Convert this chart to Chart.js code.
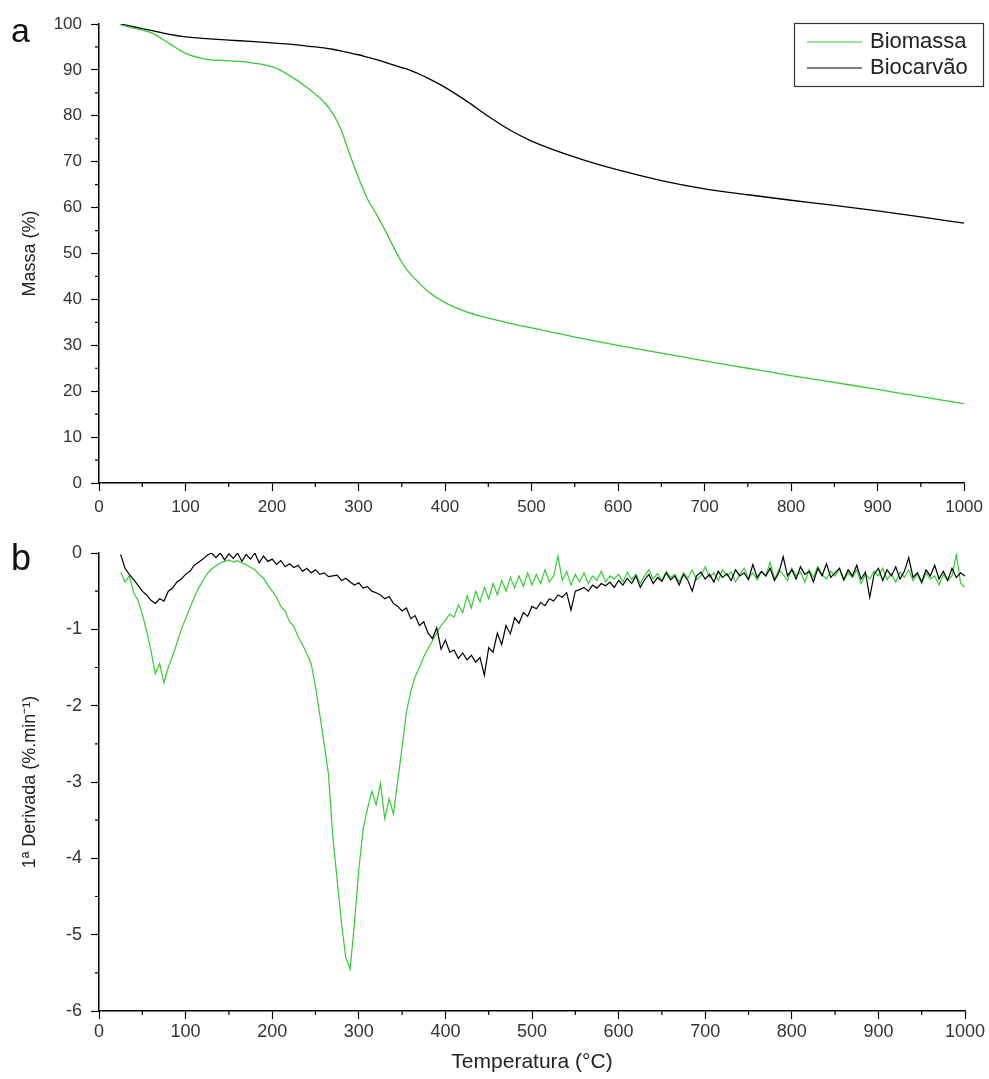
<!DOCTYPE html>
<html lang="pt">
<head>
<meta charset="utf-8">
<title>TGA / DTG - Biomassa e Biocarvão</title>
<script src="https://cdn.jsdelivr.net/npm/chart.js@4.4.1/dist/chart.umd.min.js"></script>
<style>
  html, body { margin: 0; padding: 0; background: #fff; }
  #wrap { position: relative; width: 989px; height: 1079px; }
  .panel { position: absolute; left: 0; width: 989px; }
  #panelA { top: 0; height: 530px; }
  #panelB { top: 530px; height: 549px; }
</style>
</head>
<body>
<div id="wrap">
  <div class="panel" id="panelA"><canvas id="tgaChart"></canvas></div>
  <div class="panel" id="panelB"><canvas id="dtgChart"></canvas></div>
</div>
<script>
// TGA curves (massa residual, %)
const tgaTemp = [25, 40, 60, 80, 100, 125, 150, 175, 200, 220,
                 240, 260, 270, 280, 290, 300, 310, 320, 330, 340,
                 350, 360, 370, 380, 400, 425, 450, 475, 500, 550,
                 600, 650, 700, 750, 800, 850, 900, 950, 1000];
const massaBiomassa = [99.8, 99.1, 98.1, 95.9, 93.6, 92.3, 92.0, 91.6, 90.7, 88.8,
                       86.2, 83.0, 80.6, 76.9, 71.5, 66.5, 62.0, 58.8, 55.3, 51.6,
                       48.1, 45.5, 43.6, 41.8, 39.3, 37.3, 35.9, 34.8, 33.8, 31.8,
                       30.0, 28.3, 26.6, 25.0, 23.4, 21.9, 20.4, 18.8, 17.3];
const massaBiocarvao = [100.0, 99.4, 98.6, 97.8, 97.2, 96.8, 96.5, 96.2, 95.9, 95.6,
                        95.2, 94.8, 94.5, 94.1, 93.7, 93.3, 92.8, 92.3, 91.7, 91.1,
                        90.5, 89.9, 89.1, 88.2, 86.2, 83.2, 79.9, 76.9, 74.5, 71.0,
                        68.2, 65.9, 64.1, 62.8, 61.6, 60.5, 59.3, 58.0, 56.6];

// DTG curves (1ª derivada, %.min-1), every 5 °C
const dtgTemp = [
  25, 30, 35, 40, 45, 50, 55, 60, 65, 70,
  75, 80, 85, 90, 95, 100, 105, 110, 115, 120,
  125, 130, 135, 140, 145, 150, 155, 160, 165, 170,
  175, 180, 185, 190, 195, 200, 205, 210, 215, 220,
  225, 230, 235, 240, 245, 250, 255, 260, 265, 270,
  275, 280, 285, 290, 295, 300, 305, 310, 315, 320,
  325, 330, 335, 340, 345, 350, 355, 360, 365, 370,
  375, 380, 385, 390, 395, 400, 405, 410, 415, 420,
  425, 430, 435, 440, 445, 450, 455, 460, 465, 470,
  475, 480, 485, 490, 495, 500, 505, 510, 515, 520,
  525, 530, 535, 540, 545, 550, 555, 560, 565, 570,
  575, 580, 585, 590, 595, 600, 605, 610, 615, 620,
  625, 630, 635, 640, 645, 650, 655, 660, 665, 670,
  675, 680, 685, 690, 695, 700, 705, 710, 715, 720,
  725, 730, 735, 740, 745, 750, 755, 760, 765, 770,
  775, 780, 785, 790, 795, 800, 805, 810, 815, 820,
  825, 830, 835, 840, 845, 850, 855, 860, 865, 870,
  875, 880, 885, 890, 895, 900, 905, 910, 915, 920,
  925, 930, 935, 940, 945, 950, 955, 960, 965, 970,
  975, 980, 985, 990, 995, 1000
];
const dtgBiomassa = [
  -0.25, -0.38, -0.30, -0.52, -0.62, -0.80, -1.02, -1.28, -1.58, -1.45,
  -1.70, -1.50, -1.35, -1.18, -1.00, -0.86, -0.72, -0.58, -0.46, -0.36,
  -0.27, -0.21, -0.17, -0.13, -0.11, -0.09, -0.12, -0.10, -0.13, -0.15,
  -0.19, -0.22, -0.28, -0.33, -0.42, -0.50, -0.58, -0.70, -0.76, -0.90,
  -0.96, -1.10, -1.20, -1.32, -1.45, -1.75, -2.12, -2.50, -2.90, -3.72,
  -4.28, -4.85, -5.30, -5.45, -4.85, -4.15, -3.62, -3.35, -3.12, -3.30,
  -3.02, -3.48, -3.22, -3.42, -2.98, -2.55, -2.08, -1.82, -1.62, -1.50,
  -1.36, -1.25, -1.15, -1.05, -0.95, -0.88, -0.80, -0.84, -0.68, -0.78,
  -0.56, -0.72, -0.50, -0.64, -0.45, -0.60, -0.40, -0.55, -0.36, -0.50,
  -0.32, -0.46, -0.30, -0.44, -0.26, -0.42, -0.28, -0.40, -0.22, -0.38,
  -0.30, -0.04, -0.36, -0.24, -0.42, -0.28, -0.38, -0.26, -0.40, -0.30,
  -0.36, -0.24, -0.38, -0.30, -0.34, -0.28, -0.38, -0.25, -0.35, -0.28,
  -0.40, -0.30, -0.22, -0.34, -0.27, -0.36, -0.24, -0.32, -0.28, -0.38,
  -0.26, -0.33, -0.22, -0.35, -0.30, -0.18, -0.32, -0.26, -0.36, -0.22,
  -0.30, -0.25, -0.38, -0.28, -0.20, -0.33, -0.26, -0.35, -0.24, -0.30,
  -0.12, -0.34, -0.22, -0.28, -0.36, -0.20, -0.30, -0.25, -0.38, -0.22,
  -0.32, -0.18, -0.28, -0.34, -0.24, -0.30, -0.20, -0.36, -0.26, -0.32,
  -0.22, -0.40, -0.28, -0.34, -0.24, -0.30, -0.20, -0.35, -0.27, -0.38,
  -0.25, -0.32, -0.22, -0.36, -0.28, -0.40, -0.26, -0.34, -0.30, -0.42,
  -0.28, -0.36, -0.30, -0.02, -0.40, -0.45
];
const dtgBiocarvao = [
  -0.02, -0.20, -0.28, -0.35, -0.42, -0.50, -0.55, -0.62, -0.66, -0.60,
  -0.63, -0.50, -0.46, -0.38, -0.34, -0.28, -0.24, -0.16, -0.12, -0.08,
  -0.03, 0.00, -0.06, 0.00, -0.09, -0.01, -0.07, 0.00, -0.11, -0.02,
  -0.08, 0.00, -0.13, -0.04, -0.11, -0.08, -0.15, -0.10, -0.18, -0.14,
  -0.19, -0.16, -0.24, -0.20, -0.26, -0.22, -0.28, -0.26, -0.31, -0.30,
  -0.29, -0.36, -0.33, -0.38, -0.42, -0.39, -0.46, -0.44, -0.50, -0.52,
  -0.55, -0.60, -0.57, -0.66, -0.70, -0.76, -0.72, -0.86, -0.82, -0.95,
  -0.90, -1.05, -1.12, -0.98, -1.26, -1.14, -1.30, -1.27, -1.38, -1.31,
  -1.40, -1.34, -1.43, -1.37, -1.60, -1.24, -1.30, -1.05, -1.20, -0.95,
  -1.06, -0.85, -0.92, -0.78, -0.83, -0.70, -0.73, -0.65, -0.69, -0.60,
  -0.63, -0.55, -0.58, -0.52, -0.75, -0.50, -0.48, -0.45, -0.50, -0.42,
  -0.46, -0.40, -0.43, -0.38, -0.45, -0.36, -0.42, -0.33, -0.40, -0.30,
  -0.45, -0.35, -0.28, -0.40, -0.32, -0.37, -0.26, -0.35, -0.30, -0.42,
  -0.28, -0.36, -0.50, -0.30, -0.25, -0.34, -0.28, -0.38, -0.24, -0.32,
  -0.27, -0.36, -0.22, -0.30, -0.26, -0.35, -0.15, -0.32, -0.24, -0.30,
  -0.20, -0.36, -0.26, -0.05, -0.30, -0.22, -0.34, -0.18, -0.28, -0.24,
  -0.38, -0.20, -0.30, -0.14, -0.32, -0.26, -0.20, -0.35, -0.22, -0.30,
  -0.16, -0.34, -0.25, -0.58, -0.28, -0.20, -0.36, -0.22, -0.30, -0.18,
  -0.34, -0.24, -0.06, -0.32, -0.26, -0.38, -0.22, -0.30, -0.16, -0.34,
  -0.24, -0.36, -0.20, -0.32, -0.26, -0.30
];

const GREEN = '#33cc33';
const BLACK = '#000000';
const FONT = "'Liberation Sans', Arial, sans-serif";

function toPoints(xs, ys) {
    return xs.map((x, i) => ({ x: x, y: ys[i] }));
}

// short outward ticks halfway between the labelled ones
const minorTicks = {
    id: 'minorTicks',
    afterDraw(chart, args, opts) {
        const { ctx, chartArea, scales } = chart;
        ctx.save();
        ctx.strokeStyle = '#000';
        ctx.lineWidth = 1.2;
        ctx.beginPath();
        const xt = scales.x.ticks;
        for (let i = 0; i < xt.length - 1; i++) {
            const px = scales.x.getPixelForValue((xt[i].value + xt[i + 1].value) / 2);
            ctx.moveTo(px, chartArea.bottom);
            ctx.lineTo(px, chartArea.bottom + opts.length);
        }
        const yt = scales.y.ticks;
        for (let i = 0; i < yt.length - 1; i++) {
            const py = scales.y.getPixelForValue((yt[i].value + yt[i + 1].value) / 2);
            ctx.moveTo(chartArea.left, py);
            ctx.lineTo(chartArea.left - opts.length, py);
        }
        ctx.stroke();
        ctx.restore();
    }
};

// big panel letter (a / b)
const panelLabel = {
    id: 'panelLabel',
    afterDraw(chart, args, opts) {
        const ctx = chart.ctx;
        ctx.save();
        ctx.font = opts.font;
        ctx.fillStyle = '#111';
        ctx.textBaseline = 'alphabetic';
        ctx.fillText(opts.text, opts.x, opts.y);
        ctx.restore();
    }
};

// framed legend in the top right corner
const boxLegend = {
    id: 'boxLegend',
    afterDraw(chart, args, opts) {
        if (!opts.show) return;
        const ctx = chart.ctx;
        ctx.save();
        ctx.strokeStyle = '#333';
        ctx.lineWidth = 1.2;
        ctx.strokeRect(opts.left + 0.5, opts.top + 0.5, opts.width, opts.height);
        ctx.font = opts.font;
        ctx.textBaseline = 'middle';
        chart.data.datasets.forEach((ds, i) => {
            const y = opts.top + opts.firstRow + i * opts.rowGap;
            ctx.strokeStyle = ds.borderColor;
            ctx.lineWidth = 1.2;
            ctx.beginPath();
            ctx.moveTo(opts.left + 13, y);
            ctx.lineTo(opts.left + 68, y);
            ctx.stroke();
            ctx.fillStyle = '#222';
            ctx.fillText(ds.label, opts.left + 76, y);
        });
        ctx.restore();
    }
};

function axisStyle(size, pad, step) {
    return {
        grid: { drawOnChartArea: false, drawTicks: true, tickLength: 8, tickColor: '#000', tickWidth: 1.2 },
        border: { display: true, color: '#000', width: 1.5 },
        ticks: { color: '#333', font: { family: FONT, size: size }, padding: pad,
                 stepSize: step, callback: v => String(v) }
    };
}

function initTga() {
    const ctx = document.getElementById('tgaChart').getContext('2d');
    new Chart(ctx, {
        type: 'line',
        data: {
            datasets: [{
                label: 'Biomassa',
                data: toPoints(tgaTemp, massaBiomassa),
                borderColor: GREEN,
                borderWidth: 1.3,
                cubicInterpolationMode: 'monotone',
                pointRadius: 0
            }, {
                label: 'Biocarvão',
                data: toPoints(tgaTemp, massaBiocarvao),
                borderColor: BLACK,
                borderWidth: 1.3,
                cubicInterpolationMode: 'monotone',
                pointRadius: 0
            }]
        },
        options: {
            responsive: true,
            maintainAspectRatio: false,
            animation: false,
            layout: { padding: { top: 24, right: 24, left: 0, bottom: 0 } },
            scales: {
                x: Object.assign(axisStyle(17, 6, 100), {
                    type: 'linear', min: 0, max: 1000,
                    afterFit: s => { s.height = 47; }
                }),
                y: Object.assign(axisStyle(17, 9, 10), {
                    min: 0, max: 100,
                    title: { display: true, text: 'Massa (%)', color: '#222',
                             font: { family: FONT, size: 18 }, padding: { top: 19 } },
                    afterFit: s => { s.width = 99; }
                })
            },
            plugins: {
                legend: { display: false },
                tooltip: { enabled: false },
                minorTicks: { length: 4 },
                panelLabel: { text: 'a', x: 11, y: 42, font: '34px ' + FONT },
                boxLegend: { show: true, left: 794, top: 23, width: 189, height: 63,
                             firstRow: 19, rowGap: 26, font: '22px ' + FONT }
            }
        },
        plugins: [minorTicks, panelLabel, boxLegend]
    });
}

function initDtg() {
    const ctx = document.getElementById('dtgChart').getContext('2d');
    new Chart(ctx, {
        type: 'line',
        data: {
            datasets: [{
                label: 'Biomassa',
                data: toPoints(dtgTemp, dtgBiomassa),
                borderColor: GREEN,
                borderWidth: 1.2,
                pointRadius: 0,
                order: 1
            }, {
                label: 'Biocarvão',
                data: toPoints(dtgTemp, dtgBiocarvao),
                borderColor: BLACK,
                borderWidth: 1.2,
                pointRadius: 0,
                order: 0
            }]
        },
        options: {
            responsive: true,
            maintainAspectRatio: false,
            animation: false,
            layout: { padding: { top: 23, right: 24, left: 0, bottom: 0 } },
            scales: {
                x: Object.assign(axisStyle(18, 2, 100), {
                    type: 'linear', min: 0, max: 1000,
                    title: { display: true, text: 'Temperatura (°C)', color: '#222',
                             font: { family: FONT, size: 21 }, padding: { top: 0, bottom: 4 } },
                    afterFit: s => { s.height = 68; }
                }),
                y: Object.assign(axisStyle(18, 9, 1), {
                    min: -6, max: 0,
                    title: { display: true, text: '1ª Derivada (%.min⁻¹)', color: '#222',
                             font: { family: FONT, size: 18 }, padding: { top: 19 } },
                    afterFit: s => { s.width = 99; }
                })
            },
            plugins: {
                legend: { display: false },
                tooltip: { enabled: false },
                minorTicks: { length: 4 },
                panelLabel: { text: 'b', x: 11, y: 40, font: '36px ' + FONT },
                boxLegend: { show: false }
            }
        },
        plugins: [minorTicks, panelLabel, boxLegend]
    });
}

document.addEventListener('DOMContentLoaded', function() {
    initTga();
    initDtg();
});
</script>
</body>
</html>
